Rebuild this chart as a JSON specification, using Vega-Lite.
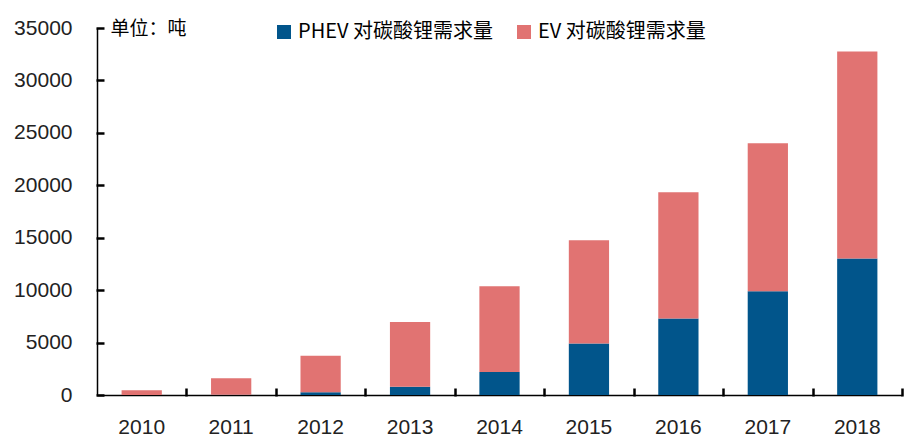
{
  "$schema": "https://vega.github.io/schema/vega-lite/v6.json",
  "width": 805,
  "height": 367,
  "autosize": {"type": "none"},
  "padding": {"left": 97, "top": 28, "right": 2, "bottom": 44},
  "background": "white",
  "config": {"view": {"stroke": null}},
  "data": {
    "values": [
      {"year": "2010", "series": "PHEV 对碳酸锂需求量", "value": 0},
      {"year": "2010", "series": "EV 对碳酸锂需求量", "value": 450},
      {"year": "2011", "series": "PHEV 对碳酸锂需求量", "value": 20},
      {"year": "2011", "series": "EV 对碳酸锂需求量", "value": 1570},
      {"year": "2012", "series": "PHEV 对碳酸锂需求量", "value": 260},
      {"year": "2012", "series": "EV 对碳酸锂需求量", "value": 3480},
      {"year": "2013", "series": "PHEV 对碳酸锂需求量", "value": 790},
      {"year": "2013", "series": "EV 对碳酸锂需求量", "value": 6160},
      {"year": "2014", "series": "PHEV 对碳酸锂需求量", "value": 2190},
      {"year": "2014", "series": "EV 对碳酸锂需求量", "value": 8190},
      {"year": "2015", "series": "PHEV 对碳酸锂需求量", "value": 4920},
      {"year": "2015", "series": "EV 对碳酸锂需求量", "value": 9840},
      {"year": "2016", "series": "PHEV 对碳酸锂需求量", "value": 7300},
      {"year": "2016", "series": "EV 对碳酸锂需求量", "value": 12030},
      {"year": "2017", "series": "PHEV 对碳酸锂需求量", "value": 9900},
      {"year": "2017", "series": "EV 对碳酸锂需求量", "value": 14100},
      {"year": "2018", "series": "PHEV 对碳酸锂需求量", "value": 13020},
      {"year": "2018", "series": "EV 对碳酸锂需求量", "value": 19740}
    ]
  },
  "resolve": {"axis": {"x": "independent", "y": "independent"}},
  "layer": [
    {
      "mark": {"type": "bar"},
      "encoding": {
        "x": {
          "field": "year",
          "type": "ordinal",
          "scale": {"paddingInner": 0.55, "paddingOuter": 0.275},
          "axis": {
            "orient": "bottom",
            "title": null,
            "labelAngle": 0,
            "labelFont": "Liberation Sans",
            "labelFontSize": 21,
            "labelColor": "#222",
            "labelPadding": 21,
            "domainColor": "#000",
            "domainWidth": 1.5,
            "ticks": false
          }
        },
        "y": {
          "field": "value",
          "type": "quantitative",
          "stack": "zero",
          "scale": {"domain": [0, 35000], "nice": false},
          "axis": {
            "orient": "left",
            "title": "单位：吨",
            "titleAngle": 0,
            "titleAlign": "left",
            "titleBaseline": "middle",
            "titleX": 13,
            "titleY": 0,
            "titleFont": "Noto Sans CJK SC",
            "titleFontSize": 19,
            "titleFontWeight": "normal",
            "titleColor": "#000",
            "values": [0, 5000, 10000, 15000, 20000, 25000, 30000, 35000],
            "format": "d",
            "grid": false,
            "labelFont": "Liberation Sans",
            "labelFontSize": 21,
            "labelColor": "#222",
            "labelPadding": 25,
            "domainColor": "#000",
            "domainWidth": 1.5,
            "ticks": false
          }
        },
        "color": {
          "field": "series",
          "type": "nominal",
          "sort": ["PHEV 对碳酸锂需求量", "EV 对碳酸锂需求量"],
          "scale": {
            "domain": ["PHEV 对碳酸锂需求量", "EV 对碳酸锂需求量"],
            "range": ["#01558B", "#E17372"]
          },
          "legend": {
            "title": null,
            "orient": "none",
            "direction": "horizontal",
            "legendX": 177,
            "legendY": -6,
            "symbolType": "square",
            "symbolSize": 196,
            "symbolStrokeWidth": 0,
            "symbolOpacity": 1,
            "labelFont": "Noto Sans CJK SC",
            "labelFontSize": 20,
            "labelColor": "#000",
            "labelOffset": 4,
            "labelLimit": 400,
            "columnPadding": 21
          }
        },
        "order": {"field": "series", "sort": "descending"}
      }
    },
    {
      "mark": {"type": "bar", "opacity": 0},
      "encoding": {
        "x": {
          "field": "year",
          "type": "ordinal",
          "axis": {
            "orient": "bottom",
            "title": null,
            "labels": false,
            "domain": false,
            "ticks": true,
            "offset": -7,
            "tickSize": 8,
            "tickWidth": 2.5,
            "tickColor": "#000000",
            "tickOpacity": 1,
            "tickOffset": 44.7
          }
        },
        "y": {
          "field": "value",
          "type": "quantitative",
          "stack": "zero",
          "axis": {
            "orient": "left",
            "title": null,
            "labels": false,
            "domain": false,
            "grid": false,
            "ticks": true,
            "offset": -7,
            "tickSize": 8,
            "tickWidth": 2.5,
            "tickColor": "#000000",
            "tickOpacity": 1,
            "values": [0, 5000, 10000, 15000, 20000, 25000, 30000, 35000]
          }
        }
      }
    }
  ]
}
